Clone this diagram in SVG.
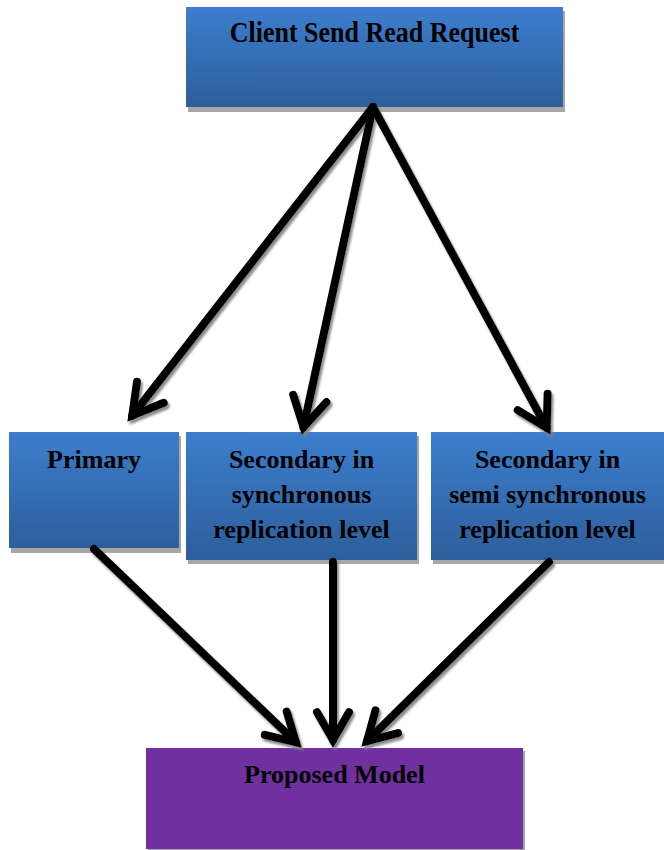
<svg xmlns="http://www.w3.org/2000/svg" width="664" height="850" viewBox="0 0 664 850">
  <defs>
    <linearGradient id="blueFill" x1="0" y1="0" x2="0" y2="1">
      <stop offset="0" stop-color="#3c7ecd"/>
      <stop offset="1" stop-color="#2d5e9b"/>
    </linearGradient>
    <filter id="arrowShadow" x="-20%" y="-20%" width="140%" height="140%">
      <feDropShadow dx="2" dy="3" stdDeviation="0.8" flood-color="#808080" flood-opacity="0.9"/>
    </filter>
  </defs>
  <style>
    .box { fill: url(#blueFill); }
    .purple { fill: #7030a0; }
    .shadow { fill: #a6a6a6; }
    .label { font-family: "Liberation Serif", "Times New Roman", serif; font-weight: bold; font-size: 26px; fill: #000; text-anchor: middle; }
    .arrow { fill: none; stroke: #000; stroke-width: 8; stroke-linejoin: miter; stroke-miterlimit: 10; stroke-linecap: round; }
  </style>

  <rect width="664" height="850" fill="#ffffff"/>

  <g id="client">
    <rect class="shadow" x="188" y="11" width="377" height="101"/>
    <rect class="box" x="186" y="7" width="377" height="100"/>
    <text class="label" transform="translate(374.5,42) scale(1,1.1)" x="0" y="0">Client Send Read Request</text>
  </g>

  <g id="primary">
    <rect class="shadow" x="11" y="436" width="170" height="117"/>
    <rect class="box" x="9" y="432" width="170" height="116"/>
    <text class="label" x="94" y="468">Primary</text>
  </g>

  <g id="secondary-sync">
    <rect class="shadow" x="188" y="436" width="231" height="128"/>
    <rect class="box" x="186" y="432" width="231" height="128"/>
    <text class="label" x="301.5" y="468">Secondary in</text>
    <text class="label" x="301.5" y="503">synchronous</text>
    <text class="label" x="301.5" y="538">replication level</text>
  </g>

  <g id="secondary-semisync">
    <rect class="shadow" x="433" y="436" width="233" height="128"/>
    <rect class="box" x="431" y="432" width="233" height="128"/>
    <text class="label" x="547.5" y="468">Secondary in</text>
    <text class="label" x="547.5" y="503">semi synchronous</text>
    <text class="label" x="547.5" y="538">replication level</text>
  </g>

  <g id="proposed-model">
    <rect class="shadow" x="148" y="751" width="377" height="101"/>
    <rect class="purple" x="146" y="748" width="377" height="101"/>
    <text class="label" x="334.5" y="783">Proposed Model</text>
  </g>

  <g id="connectors" filter="url(#arrowShadow)">
    <!-- request fan-out -->
    <path class="arrow" d="M373,107 L132.3,415.5"/>
    <path class="arrow" d="M163.8,402.8 L132.3,415.5 L137,381.8"/>
    <path class="arrow" d="M373,107 L303.5,427.2"/>
    <path class="arrow" d="M326.4,402.1 L303.5,427.2 L293.2,394.8"/>
    <path class="arrow" d="M373,107 L546.7,427.8"/>
    <path class="arrow" d="M547.6,393.8 L546.7,427.8 L517.7,410.1"/>
    <!-- results into the model -->
    <path class="arrow" d="M94,549 L295.9,742.2"/>
    <path class="arrow" d="M286.7,711.6 L295.9,742.2 L264.8,734.9"/>
    <path class="arrow" d="M333,562 L333,740"/>
    <path class="arrow" d="M349,712.3 L333,740 L317,712.3"/>
    <path class="arrow" d="M549,562 L367,741.1"/>
    <path class="arrow" d="M398,733.1 L367,741.1 L375.5,710.3"/>
  </g>
</svg>
